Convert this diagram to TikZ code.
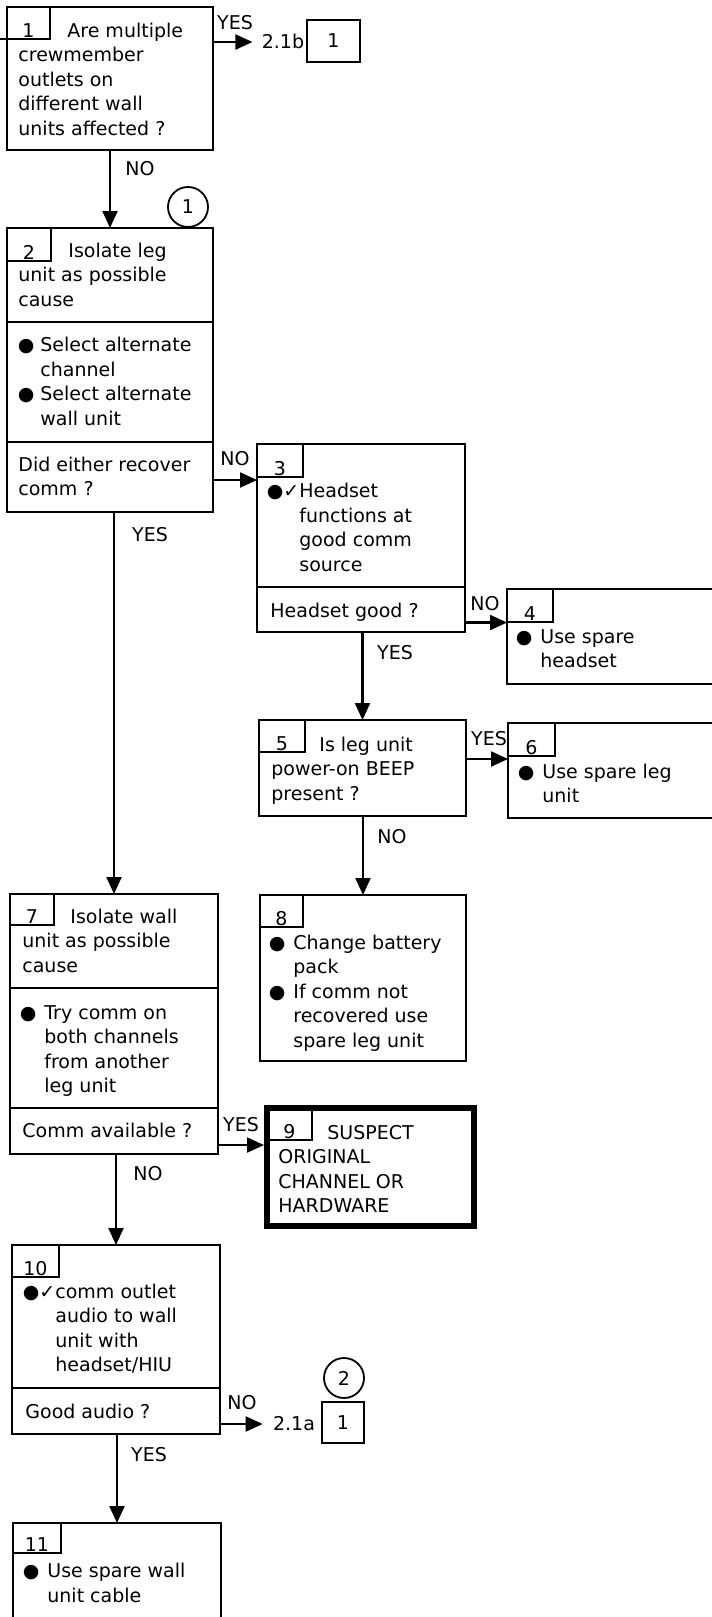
\documentclass[tikz,border=0pt]{standalone}
\usepackage{fontspec}
\setmainfont{DejaVu Sans}
\usetikzlibrary{arrows.meta}

\tikzset{
  part/.style={draw, line width=1.1pt, anchor=north west, inner sep=0pt, outer sep=0pt},
  heavy/.style={part, line width=3pt},
  tab/.style={draw, line width=1.1pt, anchor=north west, inner sep=0pt, outer sep=0pt},
  num/.style={anchor=base, inner sep=0pt},
  % multi-line text: placed by the baseline of its last line
  txt/.style={anchor=base west, align=left, inner sep=0pt},
  lbl/.style={inner sep=0pt},
  flow/.style={line width=1.1pt, -{Triangle[length=8.5pt,width=7.5pt]}},
  ref/.style={draw, circle, line width=0.9pt, minimum size=20pt, inner sep=0pt},
  page/.style={draw, line width=1.1pt, inner sep=0pt}
}

\begin{document}
\begin{tikzpicture}[x=0.5pt, y=-0.5pt, font=\fontsize{9.5}{12.25}\selectfont]
\useasboundingbox (0,0) rectangle (712,1617);

% Box 1
\node[part, minimum width=103pt, minimum height=71.5pt] (b1) at (7,7) {};
\node[tab, minimum width=21.5pt, minimum height=16pt] (t1) at (7,7) {};
\node[num] at ([yshift=1pt]t1.south) {1};
\node[txt] (x1) at (18,135) {\hspace*{24.5pt}Are multiple\\crewmember\\outlets on\\different wall\\units affected ?};
\coordinate (entry) at (0,39);
\draw[line width=1.1pt] (entry) -- (t1.south west);

% off-page reference 2.1b
\node[lbl] (r1) at (283,41) {2.1b};
\node[page, minimum width=26.5pt, minimum height=21pt] (p1) at (333.5,41) {1};

% Box 2
\node[part, minimum width=103pt, minimum height=47pt] (b2a) at (7,228) {};
\node[part, minimum width=103pt, minimum height=60pt] (b2b) at (7,322) {};
\node[part, minimum width=103pt, minimum height=35pt] (b2c) at (7,442) {};
\node[tab, minimum width=22pt, minimum height=16.5pt] (t2) at (7,228) {};
\node[num] at ([yshift=1pt]t2.south) {2};
\node[txt] at (18,306) {\hspace*{25pt}Isolate leg\\unit as possible\\cause};
\node[txt] at (40,425) {\llap{●\hspace{3pt}}Select alternate\\channel\\\llap{●\hspace{3pt}}Select alternate\\wall unit};
\node[txt] at (18,495.5) {Did either recover\\comm ?};
\node[ref] (c1) at (188,207) {1};

% Box 3
\node[part, minimum width=104pt, minimum height=71.5pt] (b3a) at (257,444) {};
\node[part, minimum width=104pt, minimum height=22.5pt] (b3b) at (257,587) {};
\node[tab, minimum width=23pt, minimum height=16.5pt] (t3) at (257,444) {};
\node[num] at ([yshift=1pt]t3.south) {3};
\node[txt] at (299,571) {\llap{●✓}Headset\\functions at\\good comm\\source};
\node[txt] at (270,617) {Headset good ?};

% Box 4
\node[part, minimum width=107.5pt, minimum height=47.5pt] (b4) at (507,589) {};
\node[tab, minimum width=23pt, minimum height=16.5pt] (t4) at (507,589) {};
\node[num] at ([yshift=1pt]t4.south) {4};
\node[txt] at (540,667.5) {\llap{●\hspace{4pt}}Use spare\\headset};

% Box 5
\node[part, minimum width=103.5pt, minimum height=48pt] (b5) at (259,720) {};
\node[tab, minimum width=23pt, minimum height=16pt] (t5) at (259,720) {};
\node[num] at ([yshift=1pt]t5.south) {5};
\node[txt] at (271,800) {\hspace*{24pt}Is leg unit\\power-on BEEP\\present ?};

% Box 6
\node[part, minimum width=107pt, minimum height=47.5pt] (b6) at (508,723) {};
\node[tab, minimum width=23.5pt, minimum height=16.5pt] (t6) at (508,723) {};
\node[num] at ([yshift=1pt]t6.south) {6};
\node[txt] at (542,802.5) {\llap{●\hspace{4pt}}Use spare leg\\unit};

% Box 7
\node[part, minimum width=104pt, minimum height=47pt] (b7a) at (10,894) {};
\node[part, minimum width=104pt, minimum height=60pt] (b7b) at (10,988) {};
\node[part, minimum width=104pt, minimum height=23pt] (b7c) at (10,1108) {};
\node[tab, minimum width=22pt, minimum height=15.5pt] (t7) at (10,894) {};
\node[num] at ([yshift=1pt]t7.south) {7};
\node[txt] at (22,972) {\hspace*{24pt}Isolate wall\\unit as possible\\cause};
\node[txt] at (44,1092.5) {\llap{●\hspace{4pt}}Try comm on\\both channels\\from another\\leg unit};
\node[txt] at (22,1137) {Comm available ?};

% Box 8
\node[part, minimum width=103pt, minimum height=83pt] (b8) at (260,895) {};
\node[tab, minimum width=21.5pt, minimum height=16pt] (t8) at (260,895) {};
\node[num] at ([yshift=1pt]t8.south) {8};
\node[txt] at (293,1047) {\llap{●\hspace{4pt}}Change battery\\pack\\\llap{●\hspace{4pt}}If comm not\\recovered use\\spare leg unit};

% Box 9 (end)
\node[heavy, minimum width=103.5pt, minimum height=59pt] (b9) at (267,1108) {};
\node[tab, minimum width=22.5pt, minimum height=16pt] (t9) at (267,1108) {};
\node[num] at ([yshift=1pt]t9.south) {9};
\node[txt] at (278,1212.5) {\hspace*{24.5pt}SUSPECT\\ORIGINAL\\CHANNEL OR\\HARDWARE};

% Box 10
\node[part, minimum width=104pt, minimum height=71.5pt] (b10a) at (12,1245) {};
\node[part, minimum width=104pt, minimum height=23pt] (b10b) at (12,1388) {};
\node[tab, minimum width=23.5pt, minimum height=16pt] (t10) at (12,1245) {};
\node[num] at ([yshift=1pt]t10.south) {10};
\node[txt] at (55,1371.5) {\llap{●✓}comm outlet\\audio to wall\\unit with\\headset/HIU};
\node[txt] at (25,1418) {Good audio ?};

% off-page reference 2.1a
\node[lbl] (r2) at (294,1424) {2.1a};
\node[page, minimum width=21pt, minimum height=20.5pt] (p2) at (343,1422.5) {1};
\node[ref] (c2) at (344,1378) {2};

% Box 11
\node[part, minimum width=104pt, minimum height=51pt] (b11) at (13,1523) {};
\node[tab, minimum width=24pt, minimum height=15pt] (t11) at (13,1523) {};
\node[num] at ([yshift=1pt]t11.south) {11};
\node[txt] at (47,1602) {\llap{●\hspace{4pt}}Use spare wall\\unit cable};

% Connectors
\draw[flow, shorten >=4.5pt] ([yshift=-1.5pt]b1.east |- t1.south) -- ([yshift=-1.5pt]r1.west |- t1.south);
\draw[flow] (b1.south) -- (b2a.north);
\draw[flow] ([yshift=-1.5pt]b2c.east) -- ([yshift=-1.5pt]b2c.east -| b3a.west);
\draw[flow] (b7a.north |- b2c.south) -- (b7a.north);
\draw[flow] ([yshift=-6.5pt]b3b.east) -- ([yshift=-6.5pt]b3b.east -| b4.west);
\draw[flow] (b5.north |- b3b.south) -- (b5.north);
\draw[flow] ([yshift=4.5pt]b5.east) -- ([yshift=4.5pt]b5.east -| b6.west);
\draw[flow] (b8.north |- b5.south) -- (b8.north);
\draw[flow, shorten >=1.5pt] ([yshift=-7pt]b7c.east) -- ([yshift=-7pt]b7c.east -| b9.west);
\draw[flow] (b10a.north |- b7c.south) -- (b10a.north);
\draw[flow, shorten >=5pt] ([yshift=-6.5pt]b10b.east) -- ([yshift=-6.5pt]b10b.east -| r2.west);
\draw[flow] (b11.north |- b10b.south) -- (b11.north);

% Labels
\node[lbl] at (235,23) {YES};
\node[lbl] at (140,169) {NO};
\node[lbl] at (235,459) {NO};
\node[lbl] at (150,535) {YES};
\node[lbl] at (485,604) {NO};
\node[lbl] at (395,653) {YES};
\node[lbl] at (489,739) {YES};
\node[lbl] at (392,837) {NO};
\node[lbl] at (241,1125) {YES};
\node[lbl] at (148,1174) {NO};
\node[lbl] at (242,1403) {NO};
\node[lbl] at (149,1455) {YES};
\end{tikzpicture}
\end{document}
